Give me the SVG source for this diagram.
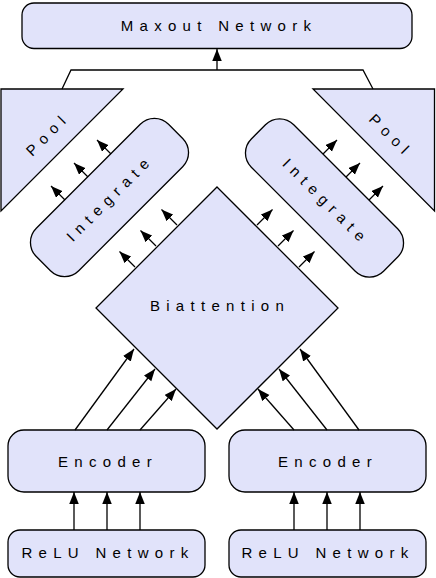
<svg xmlns="http://www.w3.org/2000/svg" width="436" height="578" viewBox="0 0 436 578">
<defs>
<marker id="ah" markerUnits="userSpaceOnUse" markerWidth="13" markerHeight="10" refX="12" refY="4.75" orient="auto">
<path d="M0,0 L12,4.75 L0,9.5 z" fill="#000"/>
</marker>
<style>
.n{fill:#e1e3fa;stroke:#000;stroke-width:1.3}
.t{font-family:"Liberation Sans",Arial,sans-serif;font-size:15px;letter-spacing:6.3px;fill:#000;text-anchor:middle}
.c{fill:none;stroke:#000;stroke-width:1.3}
.a{fill:none;stroke:#000;stroke-width:1.3;marker-end:url(#ah)}
</style>
</defs>
<rect width="436" height="578" fill="#fff"/>
<g id="maxout">
<rect class="n" x="22" y="3" width="390" height="45.5" rx="12"/>
<text class="t" x="219" y="31">Maxout Network</text>
</g>
<g id="pool-left">
<polygon class="n" points="1,89 123,89 1,211"/>
<text class="t" transform="translate(46,136) rotate(-45)" x="3" y="5">Pool</text>
</g>
<g id="pool-right">
<polygon class="n" points="313,89 434.5,89 434.5,211"/>
<text class="t" transform="translate(389,134) rotate(45)" x="3" y="5">Pool</text>
</g>
<g id="integrate-left">
<rect class="n" x="-93.5" y="-30" width="187" height="60" rx="20" transform="translate(109.5,197.5) rotate(-45)"/>
<text class="t" transform="translate(108,200) rotate(-45)" x="3" y="5">Integrate</text>
</g>
<g id="integrate-right">
<rect class="n" x="-93.5" y="-30" width="187" height="60" rx="20" transform="translate(324.5,198) rotate(45)"/>
<text class="t" transform="translate(324,200) rotate(45)" x="3" y="5">Integrate</text>
</g>
<g id="biattention">
<polygon class="n" points="217,187 338,308 217,429 96,308"/>
<text class="t" x="220" y="311">Biattention</text>
</g>
<g id="encoder-left">
<rect class="n" x="8" y="430" width="197" height="62" rx="16"/>
<text class="t" x="108" y="467">Encoder</text>
</g>
<g id="encoder-right">
<rect class="n" x="229" y="430" width="197" height="62" rx="16"/>
<text class="t" x="328" y="467">Encoder</text>
</g>
<g id="relu-left">
<rect class="n" x="8" y="530" width="197" height="47" rx="12"/>
<text class="t" x="108" y="558">ReLU Network</text>
</g>
<g id="relu-right">
<rect class="n" x="229" y="530" width="197" height="47" rx="12"/>
<text class="t" x="328" y="558">ReLU Network</text>
</g>
<g id="connectors">
<polyline class="c" points="62,89 71,70 363,70 373,89"/>
<line class="a" x1="217" y1="70" x2="217" y2="49"/>
<line class="a" x1="65" y1="200" x2="51" y2="186"/>
<line class="a" x1="88" y1="177" x2="74" y2="163"/>
<line class="a" x1="111" y1="154" x2="97" y2="140"/>
<line class="a" x1="369" y1="200" x2="383" y2="186"/>
<line class="a" x1="346" y1="177" x2="360" y2="163"/>
<line class="a" x1="323" y1="154" x2="337" y2="140"/>
<line class="a" x1="135" y1="267" x2="119.5" y2="251.5"/>
<line class="a" x1="156" y1="246" x2="140.5" y2="230.5"/>
<line class="a" x1="177" y1="225" x2="161.5" y2="209.5"/>
<line class="a" x1="299" y1="267" x2="314.5" y2="251.5"/>
<line class="a" x1="278" y1="246" x2="293.5" y2="230.5"/>
<line class="a" x1="257" y1="225" x2="272.5" y2="209.5"/>
<line class="a" x1="75" y1="430" x2="134" y2="349"/>
<line class="a" x1="107" y1="430" x2="155" y2="369"/>
<line class="a" x1="140" y1="430" x2="176" y2="389"/>
<line class="a" x1="359" y1="430" x2="300" y2="349"/>
<line class="a" x1="327" y1="430" x2="279" y2="369"/>
<line class="a" x1="294" y1="430" x2="258" y2="389"/>
<line class="a" x1="74" y1="530" x2="74" y2="492"/>
<line class="a" x1="107" y1="530" x2="107" y2="492"/>
<line class="a" x1="140" y1="530" x2="140" y2="492"/>
<line class="a" x1="294" y1="530" x2="294" y2="492"/>
<line class="a" x1="327" y1="530" x2="327" y2="492"/>
<line class="a" x1="360" y1="530" x2="360" y2="492"/>
</g>
</svg>
